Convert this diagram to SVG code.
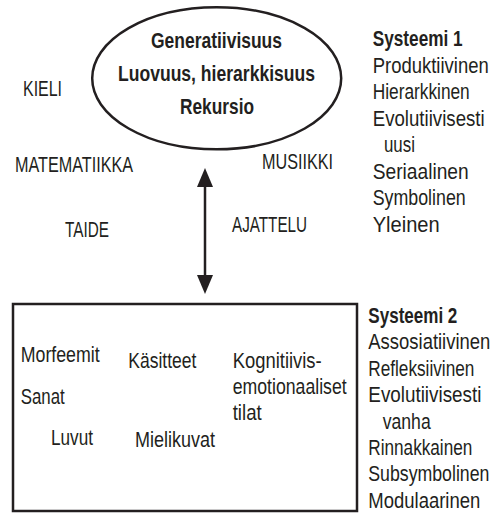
<svg xmlns="http://www.w3.org/2000/svg" width="493" height="514" viewBox="0 0 493 514">
<style>
text { font-family: "Liberation Sans", Arial, sans-serif; font-size: 22px; fill: #231f20; }
.b { font-weight: bold; }
.shape { fill: none; stroke: #231f20; stroke-width: 2.5; }
.conn { stroke: #231f20; stroke-width: 2.5; fill: none; }
</style>
<defs>
<marker id="ah" markerUnits="userSpaceOnUse" markerWidth="20" markerHeight="16" refX="9" refY="8" orient="auto-start-reverse">
<path d="M0,0 L19,8 L0,16 z" fill="#231f20"/>
</marker>
</defs>
<g id="connectors">
<line class="conn" x1="205" y1="178" x2="205" y2="284" marker-start="url(#ah)" marker-end="url(#ah)"/>
</g>
<g id="systeemi1-node">
<ellipse class="shape" cx="216.7" cy="78.3" rx="124.5" ry="71"/>
<text class="b" x="151" y="48" textLength="131" lengthAdjust="spacingAndGlyphs">Generatiivisuus</text>
<text class="b" x="118" y="81" textLength="197" lengthAdjust="spacingAndGlyphs">Luovuus, hierarkkisuus</text>
<text class="b" x="180" y="114" textLength="74" lengthAdjust="spacingAndGlyphs">Rekursio</text>
</g>
<g id="domains">
<text x="23" y="96" textLength="39" lengthAdjust="spacingAndGlyphs">KIELI</text>
<text x="15" y="172" textLength="118" lengthAdjust="spacingAndGlyphs">MATEMATIIKKA</text>
<text x="65" y="237" textLength="44" lengthAdjust="spacingAndGlyphs">TAIDE</text>
<text x="262" y="169" textLength="71" lengthAdjust="spacingAndGlyphs">MUSIIKKI</text>
<text x="232" y="232" textLength="75" lengthAdjust="spacingAndGlyphs">AJATTELU</text>
</g>
<g id="systeemi1-list" transform="scale(0.84,1)">
<text class="b" x="443.7" y="46.5" textLength="107.1" lengthAdjust="spacingAndGlyphs">Systeemi 1</text>
<text x="443.7" y="73" textLength="138.1" lengthAdjust="spacingAndGlyphs">Produktiivinen</text>
<text x="443.7" y="99.5" textLength="115.5" lengthAdjust="spacingAndGlyphs">Hierarkkinen</text>
<text x="443.7" y="126" textLength="133.3" lengthAdjust="spacingAndGlyphs">Evolutiivisesti</text>
<text x="457.1" y="152.5" textLength="36.9" lengthAdjust="spacingAndGlyphs">uusi</text>
<text x="443.7" y="179" textLength="114.3" lengthAdjust="spacingAndGlyphs">Seriaalinen</text>
<text x="443.7" y="205.5" textLength="110.7" lengthAdjust="spacingAndGlyphs">Symbolinen</text>
<text x="443.7" y="232" textLength="79.8" lengthAdjust="spacingAndGlyphs">Yleinen</text>
</g>
<g id="systeemi2-node">
<rect class="shape" x="13" y="304" width="344" height="207"/>
<text x="20.7" y="362" textLength="79" lengthAdjust="spacingAndGlyphs">Morfeemit</text>
<text x="128.3" y="368" textLength="68" lengthAdjust="spacingAndGlyphs">Käsitteet</text>
<text x="232.7" y="368" textLength="89" lengthAdjust="spacingAndGlyphs">Kognitiivis-</text>
<text x="232.7" y="394" textLength="114" lengthAdjust="spacingAndGlyphs">emotionaaliset</text>
<text x="232.7" y="420" textLength="29" lengthAdjust="spacingAndGlyphs">tilat</text>
<text x="20.7" y="404" textLength="44" lengthAdjust="spacingAndGlyphs">Sanat</text>
<text x="51" y="445" textLength="42" lengthAdjust="spacingAndGlyphs">Luvut</text>
<text x="135" y="447" textLength="80" lengthAdjust="spacingAndGlyphs">Mielikuvat</text>
</g>
<g id="systeemi2-list" transform="scale(0.8,1)">
<text class="b" x="460.4" y="323" textLength="111.3" lengthAdjust="spacingAndGlyphs">Systeemi 2</text>
<text x="460.4" y="349.4" textLength="152.5" lengthAdjust="spacingAndGlyphs">Assosiatiivinen</text>
<text x="460.4" y="375.8" textLength="132.5" lengthAdjust="spacingAndGlyphs">Refleksiivinen</text>
<text x="460.4" y="402.2" textLength="141.3" lengthAdjust="spacingAndGlyphs">Evolutiivisesti</text>
<text x="478.4" y="428.6" textLength="60" lengthAdjust="spacingAndGlyphs">vanha</text>
<text x="460.4" y="455" textLength="130" lengthAdjust="spacingAndGlyphs">Rinnakkainen</text>
<text x="460.4" y="481.4" textLength="151.3" lengthAdjust="spacingAndGlyphs">Subsymbolinen</text>
<text x="460.4" y="507.8" textLength="140" lengthAdjust="spacingAndGlyphs">Modulaarinen</text>
</g>
</svg>
